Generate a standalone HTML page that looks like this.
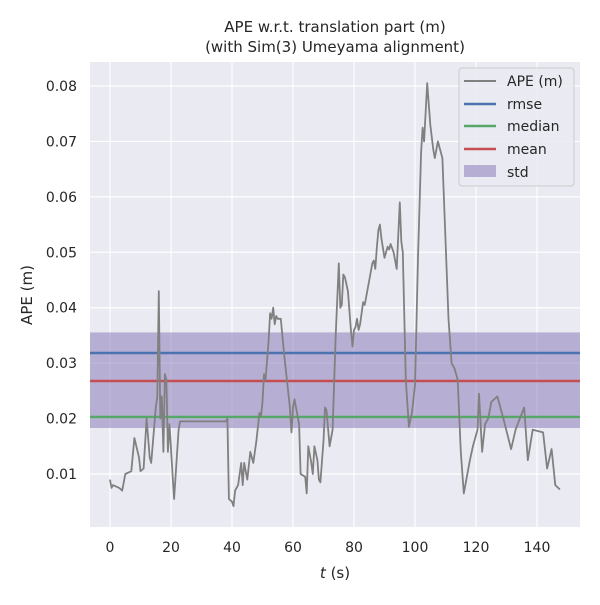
<!DOCTYPE html>
<html><head><meta charset="utf-8"><style>
body{margin:0;background:#fff;font-family:"Liberation Sans","DejaVu Sans",sans-serif}
svg text{font-family:"DejaVu Sans","Liberation Sans",sans-serif;fill:#262626}
</style></head><body>
<svg id="chart" width="600" height="600" viewBox="0 0 600 600">
<rect x="90" y="62" width="490" height="465" fill="#eaeaf2"/>
<g id="grid"></g>
<g id="stats"></g>
<path id="ape" fill="none" stroke="#808080" stroke-width="1.8" stroke-linejoin="round"/>
<g id="ticks"></g>
<text x="335" y="32" text-anchor="middle" font-size="15">APE w.r.t. translation part (m)</text>
<text x="335" y="52" text-anchor="middle" font-size="15">(with Sim(3) Umeyama alignment)</text>
<text x="335" y="578" text-anchor="middle" font-size="15"><tspan font-style="italic">t</tspan> (s)</text>
<text transform="translate(32,295) rotate(-90)" text-anchor="middle" font-size="15">APE (m)</text>
<g>
<rect x="459" y="68" width="115" height="118" rx="3" fill="#eaeaf2" fill-opacity="0.85" stroke="#cccccc"/>
<line x1="464" y1="81" x2="496" y2="81" stroke="#808080" stroke-width="2"/>
<text x="507" y="86" font-size="14">APE (m)</text>
<line x1="464" y1="104" x2="496" y2="104" stroke="#4c72b0" stroke-width="2.5"/>
<text x="507" y="109" font-size="14">rmse</text>
<line x1="464" y1="126" x2="496" y2="126" stroke="#55a868" stroke-width="2.5"/>
<text x="507" y="131" font-size="14">median</text>
<line x1="464" y1="149" x2="496" y2="149" stroke="#c44e52" stroke-width="2.5"/>
<text x="507" y="154" font-size="14">mean</text>
<rect x="464" y="165" width="32" height="12" fill="#8172b3" fill-opacity="0.5"/>
<text x="507" y="177" font-size="14">std</text>
</g>
</svg>
<script>
const times=[0,0.5,1,3,4,5,7,8,9.5,10,11,12,13,13.5,15,15.5,16,16.5,17,17.5,18,18.5,19,19.5,20.5,21,22.5,23,38,38.5,39,40,40.5,41,42,43,43.5,44,45,46,46.5,47,48,49,49.5,50,50.5,51,52,52.5,53,53.5,54,54.5,55,56,57,58,59,59.5,60,60.5,61,62,62.5,64,64.5,65,66,66.5,67,68,68.5,69,70,70.5,71,72,73,74,75,75.5,76,76.5,77,78,79,79.5,80,80.5,81,81.5,82,83,83.5,85,86,86.5,87,87.5,88,88.5,89,90,91,91.5,92,93,94,95,95.5,96,97,98,99,100,101,102,102.5,103,104,105,106,106.5,107.5,109,111,112,113,114,115,116,118,119,120.5,121,122,123,124,125,127,129,131.5,133,134,135.8,137,138.6,142,143.3,144.8,146,147.5];
const apeValues=[0.009,0.0075,0.008,0.0075,0.007,0.010,0.0105,0.0165,0.013,0.0105,0.011,0.020,0.013,0.012,0.022,0.024,0.043,0.020,0.024,0.014,0.028,0.027,0.014,0.019,0.010,0.0055,0.018,0.0195,0.0195,0.020,0.0055,0.005,0.0042,0.007,0.008,0.012,0.008,0.012,0.009,0.014,0.013,0.012,0.016,0.021,0.0205,0.023,0.028,0.027,0.034,0.039,0.038,0.040,0.037,0.0385,0.038,0.038,0.032,0.027,0.022,0.0175,0.022,0.0235,0.022,0.019,0.010,0.0095,0.0065,0.015,0.012,0.010,0.015,0.0125,0.009,0.0085,0.016,0.022,0.0215,0.015,0.018,0.035,0.048,0.040,0.0405,0.046,0.0455,0.043,0.036,0.033,0.036,0.0365,0.038,0.036,0.037,0.041,0.0405,0.045,0.048,0.0485,0.047,0.051,0.054,0.055,0.0525,0.049,0.051,0.0505,0.0515,0.050,0.047,0.059,0.052,0.050,0.027,0.0185,0.021,0.026,0.049,0.068,0.0725,0.070,0.0805,0.073,0.0685,0.067,0.070,0.067,0.038,0.030,0.029,0.027,0.014,0.0065,0.0125,0.015,0.018,0.0245,0.014,0.019,0.020,0.023,0.024,0.020,0.0145,0.018,0.0195,0.022,0.0125,0.018,0.0175,0.011,0.0145,0.008,0.0072];
const statNames=["rmse","mean","median"];
const statValues=[0.03183,0.02678,0.02029];
const stdRange=[0.0183,0.03554];
const xTicks=[0,20,40,60,80,100,120,140];
const yTicks=[0.01,0.02,0.03,0.04,0.05,0.06,0.07,0.08];
const X=t=>110+(t-0)*3.05, Y=v=>86+(0.08-v)*5543;
const NS="http://www.w3.org/2000/svg";
function mk(tag,attrs,parent){const e=document.createElementNS(NS,tag);for(const k in attrs)e.setAttribute(k,attrs[k]);document.getElementById(parent).appendChild(e);return e;}
xTicks.forEach(t=>{
 const l=mk("line",{x1:X(t),x2:X(t),y1:62,y2:527,stroke:"#fff","stroke-width":1.2},"grid");
 
 
 const tx=mk("text",{x:X(t),y:552,"text-anchor":"middle","font-size":14},"ticks");tx.textContent=t;
 
 
});
yTicks.forEach(v=>{
 const l=mk("line",{x1:90,x2:580,y1:Y(v),y2:Y(v),stroke:"#fff","stroke-width":1.2},"grid");
 
 
 const tx=mk("text",{x:77,y:Y(v)+5,"text-anchor":"end","font-size":14},"ticks");tx.textContent=v.toFixed(2);
 
 
});
const band=mk("rect",{x:90,width:490,y:Y(stdRange[1]),height:Y(stdRange[0])-Y(stdRange[1]),fill:"#8172b3","fill-opacity":0.5},"stats");


const cols={rmse:"#4c72b0",mean:"#c44e52",median:"#55a868"};
statNames.forEach((n,i)=>{
 const l=mk("line",{x1:90,x2:580,y1:Y(statValues[i]),y2:Y(statValues[i]),stroke:cols[n],"stroke-width":2.5},"stats");
 
 
});
document.getElementById("ape").setAttribute("d",times.map((t,i)=>(i?"L":"M")+X(t).toFixed(1)+","+Y(apeValues[i]).toFixed(1)).join(""));
</script>
</body></html>
